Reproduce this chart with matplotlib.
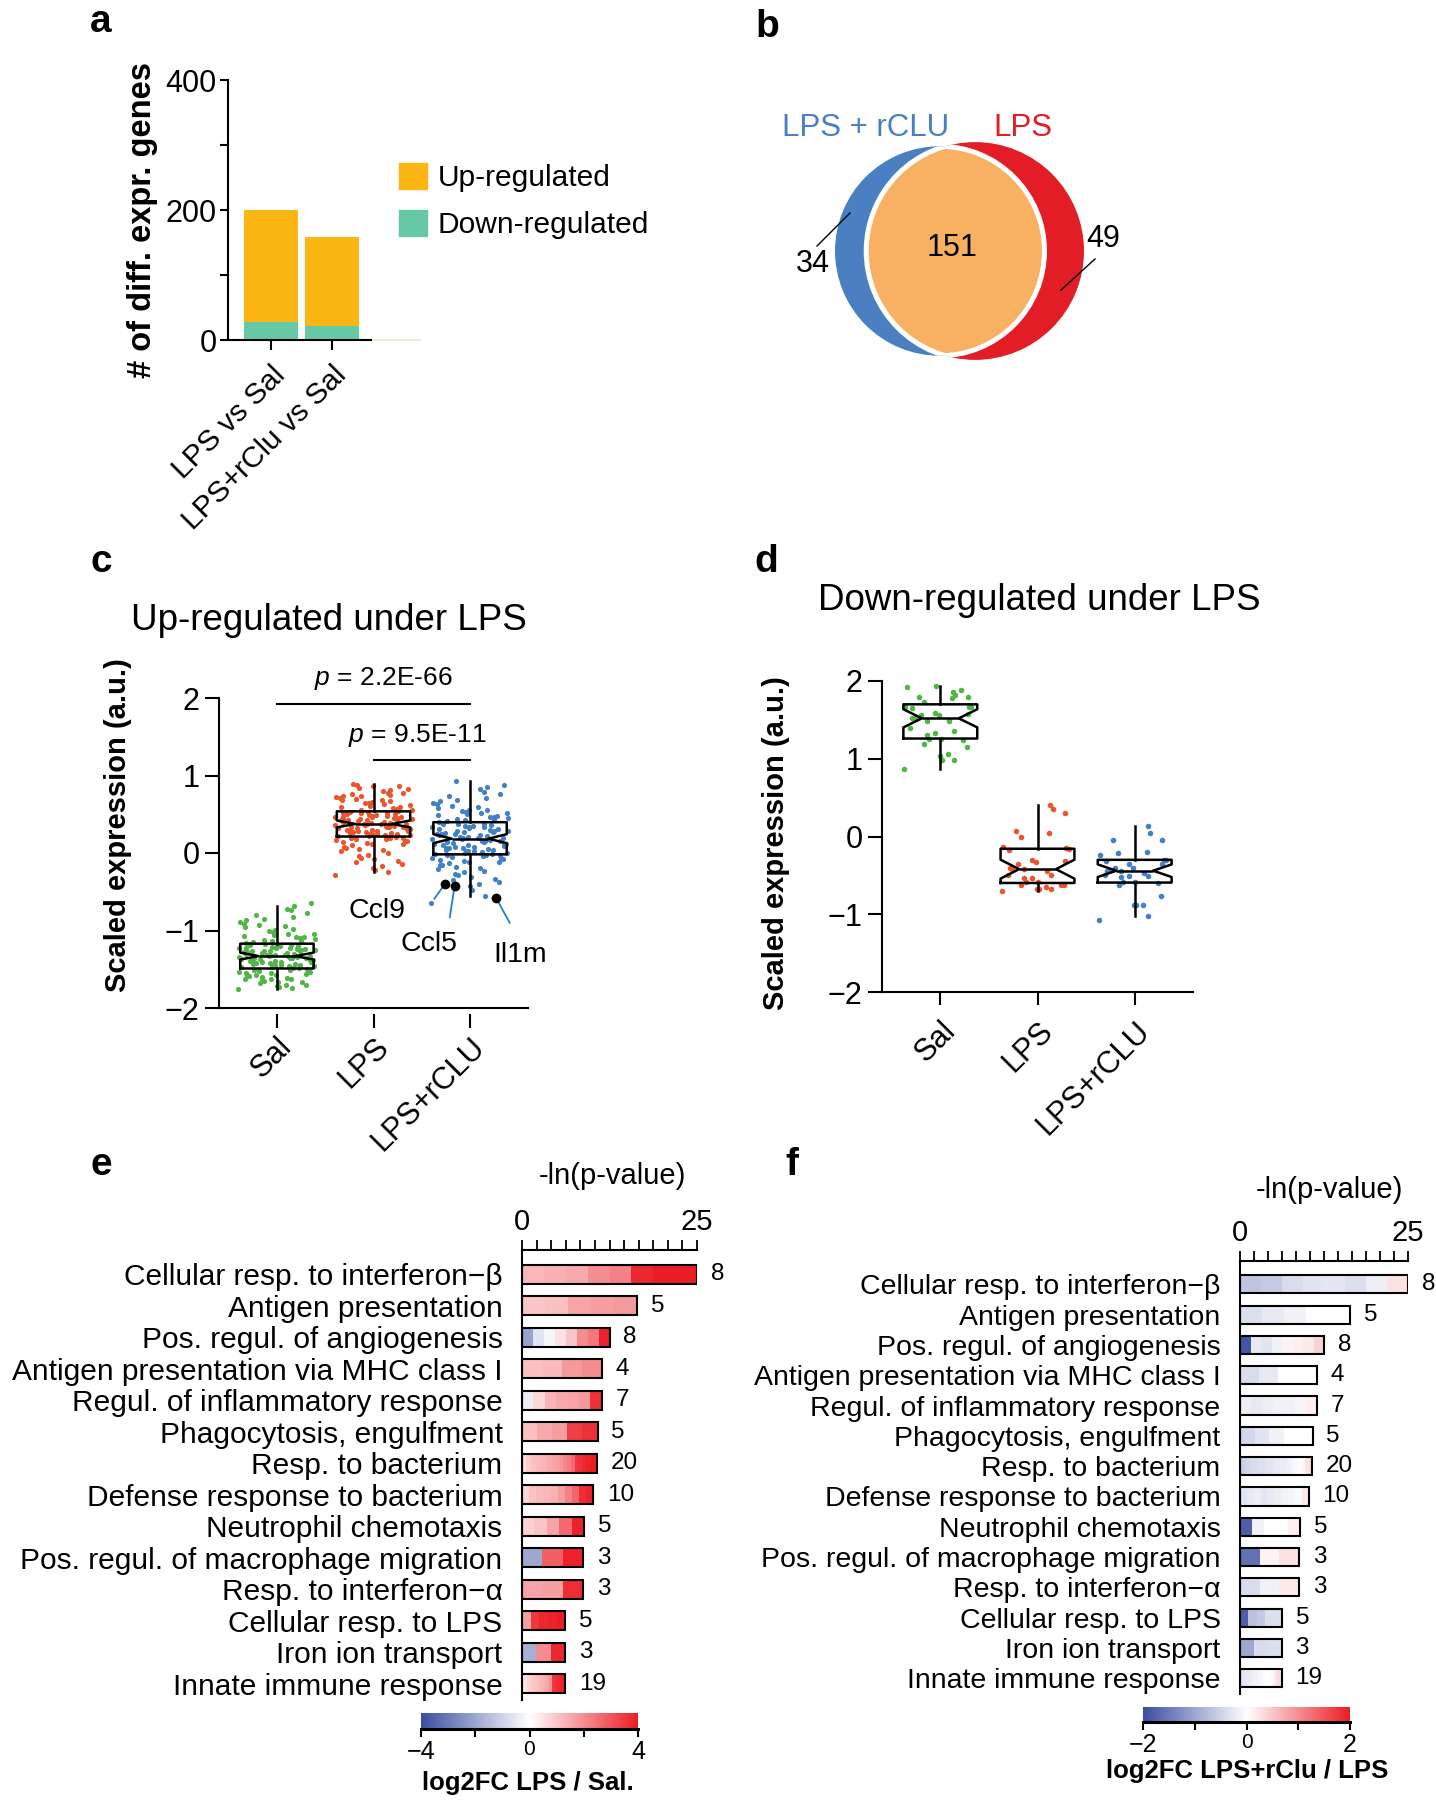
import matplotlib
matplotlib.use("Agg")
import matplotlib.pyplot as plt
import matplotlib.transforms as mtransforms
import numpy as np
from matplotlib.cm import ScalarMappable
from matplotlib.colors import LinearSegmentedColormap, Normalize
from matplotlib.patches import Circle, Patch

plt.rcParams["font.family"] = ["Liberation Sans", "DejaVu Sans"]
plt.rcParams["mathtext.fontset"] = "custom"
plt.rcParams["mathtext.it"] = "Liberation Sans:italic"
plt.rcParams["mathtext.rm"] = "Liberation Sans"
plt.rcParams["axes.linewidth"] = 1.5

W, H = 1436, 1800

# ---------------- data ----------------
# a: number of differentially expressed genes
comparisons = ["LPS vs Sal", "LPS+rClu vs Sal"]
n_down = [27, 22]
n_up = [173, 137]

# b: overlap of gene sets
venn_only_rclu = 34
venn_shared = 151
venn_only_lps = 49

# c: scaled expression of genes up-regulated under LPS
groups = ["Sal", "LPS", "LPS+rCLU"]
up_sal = [
    -1.76, -1.74, -1.73, -1.71, -1.70, -1.70, -1.68, -1.67, -1.66, -1.65, -1.64,
    -1.63, -1.62, -1.62, -1.61, -1.60, -1.59, -1.58, -1.58, -1.57, -1.56, -1.55,
    -1.55, -1.54, -1.53, -1.53, -1.52, -1.51, -1.51, -1.50, -1.49, -1.49, -1.48,
    -1.47, -1.47, -1.46, -1.46, -1.45, -1.45, -1.44, -1.44, -1.43, -1.43, -1.42,
    -1.42, -1.41, -1.41, -1.40, -1.40, -1.39, -1.39, -1.38, -1.38, -1.37, -1.37,
    -1.36, -1.36, -1.35, -1.35, -1.34, -1.34, -1.34, -1.33, -1.33, -1.32, -1.32,
    -1.31, -1.31, -1.30, -1.30, -1.29, -1.29, -1.28, -1.28, -1.27, -1.27, -1.26,
    -1.26, -1.25, -1.25, -1.24, -1.24, -1.23, -1.23, -1.22, -1.22, -1.21, -1.21,
    -1.20, -1.20, -1.19, -1.19, -1.18, -1.17, -1.16, -1.15, -1.14, -1.13, -1.12,
    -1.11, -1.10, -1.09, -1.08, -1.07, -1.06, -1.05, -1.04, -1.02, -1.01, -0.99,
    -0.98, -0.96, -0.94, -0.93, -0.91, -0.89, -0.87, -0.85, -0.83, -0.80, -0.77,
    -0.74, -0.72, -0.69, -0.65,
]
up_lps = [
    -0.28, -0.25, -0.22, -0.19, -0.17, -0.14, -0.12, -0.10, -0.08, -0.06, -0.04,
    -0.02, 0.00, 0.02, 0.04, 0.05, 0.07, 0.08, 0.10, 0.11, 0.12, 0.13, 0.14, 0.15,
    0.16, 0.17, 0.18, 0.18, 0.19, 0.20, 0.20, 0.21, 0.21, 0.22, 0.22, 0.23, 0.23,
    0.24, 0.24, 0.25, 0.25, 0.26, 0.26, 0.27, 0.27, 0.28, 0.28, 0.29, 0.29, 0.30,
    0.30, 0.31, 0.31, 0.32, 0.32, 0.33, 0.33, 0.34, 0.34, 0.35, 0.35, 0.36, 0.36,
    0.37, 0.37, 0.38, 0.38, 0.39, 0.39, 0.40, 0.40, 0.41, 0.41, 0.42, 0.42, 0.43,
    0.43, 0.44, 0.44, 0.45, 0.45, 0.46, 0.46, 0.47, 0.47, 0.48, 0.48, 0.49, 0.49,
    0.50, 0.50, 0.51, 0.51, 0.52, 0.52, 0.53, 0.53, 0.54, 0.55, 0.56, 0.57, 0.58,
    0.59, 0.60, 0.61, 0.62, 0.63, 0.64, 0.65, 0.66, 0.67, 0.68, 0.69, 0.70, 0.71,
    0.72, 0.73, 0.74, 0.75, 0.76, 0.77, 0.78, 0.80, 0.81, 0.83, 0.84, 0.86, 0.87,
    0.88, 0.89,
]
up_rclu = [
    -0.65, -0.55, -0.48, -0.42, -0.40, -0.37, -0.35, -0.33, -0.31, -0.29, -0.27,
    -0.25, -0.23, -0.21, -0.19, -0.18, -0.16, -0.15, -0.13, -0.12, -0.11, -0.10,
    -0.09, -0.08, -0.07, -0.06, -0.05, -0.04, -0.03, -0.03, -0.02, -0.02, -0.01,
    -0.01, 0.00, 0.00, 0.01, 0.02, 0.02, 0.03, 0.04, 0.04, 0.05, 0.06, 0.06, 0.07,
    0.08, 0.08, 0.09, 0.10, 0.10, 0.11, 0.12, 0.12, 0.13, 0.14, 0.14, 0.15, 0.16,
    0.16, 0.17, 0.18, 0.18, 0.19, 0.19, 0.20, 0.21, 0.21, 0.22, 0.23, 0.23, 0.24,
    0.25, 0.25, 0.26, 0.27, 0.27, 0.28, 0.29, 0.29, 0.30, 0.31, 0.31, 0.32, 0.33,
    0.33, 0.34, 0.35, 0.35, 0.36, 0.37, 0.37, 0.38, 0.39, 0.40, 0.41, 0.42, 0.43,
    0.44, 0.45, 0.46, 0.47, 0.48, 0.49, 0.50, 0.51, 0.52, 0.53, 0.54, 0.55, 0.56,
    0.58, 0.59, 0.61, 0.63, 0.65, 0.67, 0.69, 0.71, 0.73, 0.76, 0.79, 0.82, 0.85,
    0.88, 0.93,
]
gene_names = ["Ccl9", "Ccl5", "Il1m"]
gene_expr = [-0.40, -0.42, -0.58]
p_values = ["2.2E-66", "9.5E-11"]

# d: scaled expression of genes down-regulated under LPS
down_sal = [
    0.87, 0.99, 0.99, 1.04, 1.06, 1.15, 1.19, 1.24, 1.26, 1.26, 1.31, 1.33, 1.36,
    1.39, 1.49, 1.49, 1.52, 1.52, 1.56, 1.56, 1.58, 1.59, 1.65, 1.66, 1.66, 1.67,
    1.73, 1.78, 1.80, 1.80, 1.82, 1.86, 1.89, 1.92, 1.94,
]
down_lps = [
    -0.70, -0.68, -0.67, -0.67, -0.65, -0.62, -0.62, -0.62, -0.59, -0.59, -0.54,
    -0.53, -0.49, -0.49, -0.45, -0.42, -0.42, -0.40, -0.35, -0.33, -0.32, -0.30,
    -0.18, -0.16, -0.15, -0.14, -0.01, 0.04, 0.07, 0.30, 0.36, 0.40,
]
down_rclu = [
    -1.07, -1.02, -0.88, -0.88, -0.88, -0.76, -0.63, -0.60, -0.59, -0.58, -0.52,
    -0.51, -0.51, -0.50, -0.47, -0.44, -0.43, -0.44, -0.40, -0.40, -0.35, -0.35,
    -0.31, -0.30, -0.30, -0.24, -0.21, -0.20, -0.05, -0.04, 0.05, 0.13,
]

# e / f: GO terms, -ln(p) and per-gene log2 fold changes
go_terms = [
    "Cellular resp. to interferon\u2212\u03b2",
    "Antigen presentation",
    "Pos. regul. of angiogenesis",
    "Antigen presentation via MHC class I",
    "Regul. of inflammatory response",
    "Phagocytosis, engulfment",
    "Resp. to bacterium",
    "Defense response to bacterium",
    "Neutrophil chemotaxis",
    "Pos. regul. of macrophage migration",
    "Resp. to interferon\u2212\u03b1",
    "Cellular resp. to LPS",
    "Iron ion transport",
    "Innate immune response",
]
neglog_p = [25.0, 16.4, 12.5, 11.4, 11.4, 10.8, 10.75, 10.2, 8.9, 8.75, 8.75, 6.2, 6.2, 6.2]
fc_lps_vs_sal = [
    [1.3, 1.4, 1.5, 2.0, 2.2, 3.8, 4.0, 4.2],
    [1.0, 1.1, 1.6, 1.7, 1.8],
    [-2.1, -0.6, -0.2, 0.5, 1.0, 2.0, 2.4, 3.9],
    [1.1, 1.2, 1.8, 2.0],
    [-0.4, 0.7, 1.3, 1.5, 1.6, 1.8, 3.6],
    [1.1, 1.5, 1.7, 3.4, 3.6],
    [0.6, 0.9, 1.0, 1.1, 1.2, 1.3, 1.4, 1.5, 1.6, 1.7, 1.9, 2.1, 2.3, 2.6, 3.5, 3.6, 3.8, 3.9, 4.0, 4.2],
    [0.7, 1.1, 1.2, 1.3, 1.4, 1.7, 2.2, 2.7, 3.7, 3.9],
    [0.8, 1.0, 1.6, 2.6, 3.9],
    [-2.0, 2.8, 3.9],
    [1.6, 1.7, 3.7],
    [1.7, 3.5, 3.8, 3.9, 4.0],
    [-1.8, 2.0, 3.8],
    [0.3, 0.5, 0.7, 0.8, 0.9, 1.0, 1.1, 1.2, 1.3, 1.4, 1.5, 1.6, 1.9, 3.5, 3.6, 3.7, 3.8, 3.9, 4.0],
]
fc_rclu_vs_lps = [
    [-0.65, -0.6, -0.4, -0.3, -0.28, -0.35, -0.18, 0.25],
    [-0.35, -0.25, -0.15, 0.0, 0.0],
    [-1.9, -0.25, -0.3, -0.15, 0.1, 0.15, 0.2, 0.4],
    [-0.4, -0.25, 0.0, 0.0],
    [-0.2, -0.25, -0.2, -0.15, -0.15, -0.1, 0.15],
    [-0.45, -0.3, -0.15, 0.0, 0.0],
    [-0.55, -0.5, -0.45, -0.4, -0.4, -0.35, -0.35, -0.3, -0.3, -0.25, -0.25, -0.2, -0.2, -0.15, -0.1, -0.05, 0.0, 0.05, 0.25, 0.3],
    [-0.3, -0.25, -0.2, -0.3, -0.25, -0.2, -0.15, -0.1, -0.05, 0.2],
    [-1.8, -0.15, 0.0, 0.0, 0.15],
    [-1.6, 0.1, 0.25],
    [-0.4, -0.15, 0.2],
    [-1.8, -0.7, -0.6, -0.35, -0.35],
    [-1.0, -0.4, -0.35],
    [-0.3, -0.3, -0.25, -0.25, -0.2, -0.2, -0.15, -0.15, -0.1, -0.1, -0.05, 0.0, 0.0, 0.0, 0.05, 0.1, 0.25, 0.3, 0.3],
]

# ---------------- styles ----------------
C_UP, C_DOWN = "#fbb614", "#66c9a6"
C_BLUE, C_ORANGE, C_RED = "#4a80c2", "#f8b062", "#e31d25"
GROUP_COLORS = ["#53b449", "#ea552d", "#4280c8"]
fc_cmap = LinearSegmentedColormap.from_list("bwr_fc", ["#3a4ea1", "#ffffff", "#ec1c24"])


def fig_xy(x, y):
    return x / W, 1 - y / H


def add_axes_px(x0, y0, x1, y1):
    return fig.add_axes([x0 / W, 1 - y1 / H, (x1 - x0) / W, (y1 - y0) / H])


def jitter(n, spread):
    i = np.arange(n)
    return ((i * 0.6180339887 + i * i * 0.0713) % 1.0 - 0.5) * 2 * spread


fig = plt.figure(figsize=(W / 100, H / 100), dpi=100)

for letter, (x, y) in {"a": (101, 22), "b": (767, 27), "c": (101, 562),
                       "d": (766, 562), "e": (101, 1165), "f": (792, 1165)}.items():
    fig.text(*fig_xy(x, y), letter, fontsize=28, fontweight="bold", ha="center", va="center")

# ---------------- a ----------------
ax_a = add_axes_px(228, 80, 371, 340)
xa = np.arange(len(comparisons))
ax_a.bar(xa, n_down, 0.9, color=C_DOWN)
ax_a.bar(xa, n_up, 0.9, bottom=n_down, color=C_UP)
ax_a.set_xlim(-0.705, 1.64)
ax_a.set_ylim(0, 400)
ax_a.set_yticks([0, 100, 200, 300, 400])
ax_a.set_yticklabels(["0", "", "200", "", "400"], fontsize=22)
ax_a.set_xticks(xa)
ax_a.set_xticklabels(comparisons, rotation=45, ha="right", rotation_mode="anchor", fontsize=21.5)
ax_a.tick_params(axis="y", length=6, width=1.5, pad=2)
ax_a.tick_params(axis="x", length=7, width=1.5, pad=8)
for s in ["top", "right"]:
    ax_a.spines[s].set_visible(False)
ax_a.plot([1, 1.34], [0, 0], transform=ax_a.transAxes, color="#ecebd5", lw=1.5, clip_on=False)
ax_a.set_ylabel("# of diff. expr. genes", fontsize=23.5, fontweight="bold", va="center")
ax_a.yaxis.set_label_coords(-0.6, 0.46)
fig.legend(handles=[Patch(color=C_UP), Patch(color=C_DOWN)],
           labels=["Up-regulated", "Down-regulated"], loc="upper left",
           bbox_to_anchor=fig_xy(372, 136), frameon=False, fontsize=21.5,
           handlelength=0.95, handleheight=0.95, handletextpad=0.35, labelspacing=0.6)

# ---------------- b ----------------
ax_b = add_axes_px(780, 100, 1140, 380)
ax_b.set_xlim(780, 1140)
ax_b.set_ylim(380, 100)
ax_b.axis("off")
k = 7.7
r_rclu = k * np.sqrt(venn_only_rclu + venn_shared)
r_lps = k * np.sqrt(venn_shared + venn_only_lps)
c_rclu = (835 + r_rclu, 251)
c_lps = (1084 - r_lps, 251)
ax_b.add_patch(Circle(c_rclu, r_rclu, fc=C_BLUE, ec="none"))
ax_b.add_patch(Circle(c_lps, r_lps, fc=C_RED, ec="none"))
lens = Circle(c_lps, r_lps, fc=C_ORANGE, ec="white", lw=3.6)
ax_b.add_patch(lens)
lens.set_clip_path(Circle(c_rclu, r_rclu, transform=ax_b.transData))
edge = Circle(c_rclu, r_rclu, fc="none", ec="white", lw=3.6)
ax_b.add_patch(edge)
edge.set_clip_path(Circle(c_lps, r_lps, transform=ax_b.transData))
ax_b.text(866, 128, "LPS + rCLU", color=C_BLUE, fontsize=22.5, ha="center", va="center")
ax_b.text(1023, 128, "LPS", color=C_RED, fontsize=22.5, ha="center", va="center")
ax_b.text(952, 248, str(venn_shared), fontsize=22, ha="center", va="center")
ax_b.text(813, 264, str(venn_only_rclu), fontsize=22, ha="center", va="center")
ax_b.text(1103, 239, str(venn_only_lps), fontsize=22, ha="center", va="center")
ax_b.plot([817, 850], [246, 213], color="k", lw=1)
ax_b.plot([1095, 1061], [259, 290], color="k", lw=1)


# ---------------- c / d ----------------
def box_panel(ax, data, spread, msize):
    for i, (vals, col) in enumerate(zip(data, GROUP_COLORS)):
        ax.scatter(i + jitter(len(vals), spread), vals, s=msize, color=col, lw=0, zorder=1)
    lp = dict(color="k", lw=1.8)
    ax.boxplot(data, positions=range(len(data)), widths=0.76, notch=True, showfliers=False,
               showcaps=False, boxprops=lp, whiskerprops=lp, medianprops=lp, zorder=3)
    ax.set_xlim(-0.6, 2.6)
    ax.set_ylim(-2, 2)
    ax.set_yticks([-2, -1, 0, 1, 2])
    ax.set_yticklabels(["\u22122", "\u22121", "0", "1", "2"], fontsize=22)
    ax.tick_params(axis="y", length=10, width=1.5, pad=4)
    ax.set_xticks(range(len(groups)))
    ax.set_xticklabels(groups, rotation=45, ha="right", rotation_mode="anchor", fontsize=22)
    for s in ["top", "right"]:
        ax.spines[s].set_visible(False)
    shift = mtransforms.ScaledTranslation(6 / 100, 0, fig.dpi_scale_trans)
    for lbl in ax.get_xticklabels():
        lbl.set_transform(lbl.get_transform() + shift)
    ax.set_ylabel("Scaled expression (a.u.)", fontsize=21, fontweight="bold", va="center")


ax_c = add_axes_px(219, 698, 528, 1008)
box_panel(ax_c, [up_sal, up_lps, up_rclu], 0.4, 14)
ax_c.tick_params(axis="x", length=0, pad=17)
tick_tr = mtransforms.blended_transform_factory(ax_c.transData, ax_c.transAxes)
for i in range(len(groups)):
    ax_c.plot([i, i], [-0.023, -0.062], transform=tick_tr, color="k", lw=1.5, clip_on=False)
ax_c.yaxis.set_label_coords(-0.327, 0.59)
fig.text(*fig_xy(329, 621), "Up-regulated under LPS", fontsize=26.5, ha="center", va="center")

gene_x = [1.74, 1.84, 2.27]
gene_line_end = [(1.63, -0.59), (1.79, -0.83), (2.41, -0.90)]
gene_label_pos = [(1.04, -0.75), (1.57, -1.18), (2.52, -1.31)]
for gx, gy, (lx, ly), name, (tx, ty) in zip(gene_x, gene_expr, gene_line_end, gene_names, gene_label_pos):
    ax_c.plot([gx, lx], [gy, ly], color="#2a7fc0", lw=1.3, zorder=4)
    ax_c.scatter([gx], [gy], s=36, color="k", zorder=5)
    ax_c.text(tx, ty, name, fontsize=20.5, ha="center", va="center")

for (x0, x1), yl, yt, xt, pv in zip([(0, 2), (1, 2)], [1.92, 1.20], [2.25, 1.52], [1.10, 1.45], p_values):
    ax_c.plot([x0, x1], [yl, yl], color="k", lw=1.5, clip_on=False)
    ax_c.text(xt, yt, f"$p$ = {pv}", fontsize=19, ha="center", va="center")

ax_d = add_axes_px(882, 681, 1193, 992)
box_panel(ax_d, [down_sal, down_lps, down_rclu], 0.37, 16)
ax_d.tick_params(axis="x", length=9, width=1.5, pad=8)
ax_d.yaxis.set_label_coords(-0.341, 0.48)
fig.text(*fig_xy(1039, 601), "Down-regulated under LPS", fontsize=26.5, ha="center", va="center")


# ---------------- e / f ----------------
def go_panel(ax, fcs, vmax, label_size):
    norm = Normalize(-vmax, vmax)
    y = np.arange(len(go_terms))
    for i, (p, fc) in enumerate(zip(neglog_p, fcs)):
        n = len(fc)
        w = p / n
        ax.barh([i] * n, [w] * n, left=np.arange(n) * w, height=0.6,
                color=fc_cmap(norm(np.array(fc))), lw=0)
        ax.barh(i, p, height=0.6, fill=False, edgecolor="k", lw=1.5)
        ax.annotate(str(n), (p, i), xytext=(10, 0), textcoords="offset points",
                    fontsize=17.5, va="center", ha="left")
    ax.set_xlim(0, 25)
    ax.set_ylim(13.52, -0.77)
    ax.set_yticks(y)
    ax.set_yticklabels(go_terms, fontsize=label_size)
    ax.tick_params(axis="y", length=0, pad=14)
    ax.xaxis.tick_top()
    ticks = np.linspace(0, 25, 13)
    ax.set_xticks(ticks)
    ax.set_xticklabels(["0"] + [""] * 11 + ["25"], fontsize=21)
    ax.tick_params(axis="x", length=7, width=1.3, pad=3)
    for s in ["bottom", "right"]:
        ax.spines[s].set_visible(False)
    return norm


def fc_colorbar(box, norm, ticks, labels, title, title_xy):
    cax = add_axes_px(*box)
    cb = fig.colorbar(ScalarMappable(norm=norm, cmap=fc_cmap), cax=cax, orientation="horizontal")
    cb.outline.set_visible(False)
    cb.set_ticks(ticks)
    cb.set_ticklabels(labels)
    cax.tick_params(length=6, width=1.5, labelsize=18, pad=2)
    for t in cax.get_xticklabels():
        if t.get_text() == "0":
            t.set_fontsize(15)
    cax.plot([norm.vmin, norm.vmax], [0, 0], color="k", lw=2.2, clip_on=False)
    fig.text(*fig_xy(*title_xy), title, fontsize=18.5, fontweight="bold", ha="center", va="center")


ax_e = add_axes_px(522, 1250, 697, 1700)
norm_e = go_panel(ax_e, fc_lps_vs_sal, 4, 21.5)
fig.text(*fig_xy(612, 1176), "-ln(p-value)", fontsize=21, ha="center", va="center")
fc_colorbar((421, 1713, 638, 1729), norm_e, [-4, -2, 0, 2, 4], ["\u22124", "", "0", "", "4"],
            "log2FC LPS / Sal.", (528, 1783))

ax_f = add_axes_px(1240, 1261, 1408, 1694)
norm_f = go_panel(ax_f, fc_rclu_vs_lps, 2, 20.5)
fig.text(*fig_xy(1329, 1190), "-ln(p-value)", fontsize=21, ha="center", va="center")
fc_colorbar((1143, 1707, 1350, 1722), norm_f, [-2, -1, 0, 1, 2], ["\u22122", "", "0", "", "2"],
            "log2FC LPS+rClu / LPS", (1247, 1771))

fig.savefig("out.png", dpi=100)
